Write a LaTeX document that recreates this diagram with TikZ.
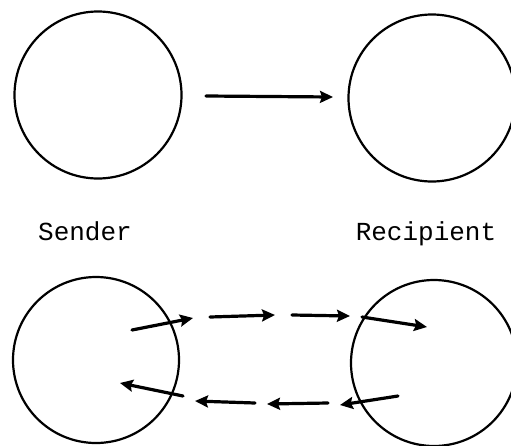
\documentclass[tikz,border=0pt]{standalone}
\usepackage{fontspec}
\setmonofont{Liberation Mono}
\usetikzlibrary{arrows.meta}
\begin{document}
\begin{tikzpicture}[x=1pt,y=-1pt,
  party/.style={circle,draw,line width=2.2pt,minimum size=167pt,inner sep=0pt},
  msg/.style={line width=3.2pt,line cap=round,-{Stealth[length=13pt,width=12pt,inset=2pt]}},
  lbl/.style={font=\ttfamily\fontsize{26}{30}\selectfont,anchor=base}]
\useasboundingbox (0,0) rectangle (511,445);
\node[party] (s1) at (98,95) {};
\node[party] (r1) at (432,98) {};
\coordinate (a0) at (206,96);
\coordinate (a1) at (333,97);
\draw[msg] (a0) -- (a1);
\node[lbl] (ls) at (85,240) {Sender};
\node[lbl] (lr) at (426,240) {Recipient};
\node[party,minimum size=166pt] (s2) at (96,360) {};
\node[party,minimum size=166pt] (r2) at (434,363) {};
% forward chain
\coordinate (f0) at (132,330);
\coordinate (f1) at (193,318);
\coordinate (f2) at (210,317);
\coordinate (f3) at (275,315);
\coordinate (f4) at (292,315);
\coordinate (f5) at (350,316);
\coordinate (f6) at (362,317);
\coordinate (f7) at (427,327);
\draw[msg] (f0) -- (f1);
\draw[msg] (f2) -- (f3);
\draw[msg] (f4) -- (f5);
\draw[msg] (f6) -- (f7);
% backward chain
\coordinate (b0) at (398,396);
\coordinate (b1) at (340,405);
\coordinate (b2) at (328,403);
\coordinate (b3) at (267,404);
\coordinate (b4) at (255,403);
\coordinate (b5) at (195,401);
\coordinate (b6) at (183,396);
\coordinate (b7) at (120,383);
\draw[msg] (b0) -- (b1);
\draw[msg] (b2) -- (b3);
\draw[msg] (b4) -- (b5);
\draw[msg] (b6) -- (b7);
\end{tikzpicture}
\end{document}
